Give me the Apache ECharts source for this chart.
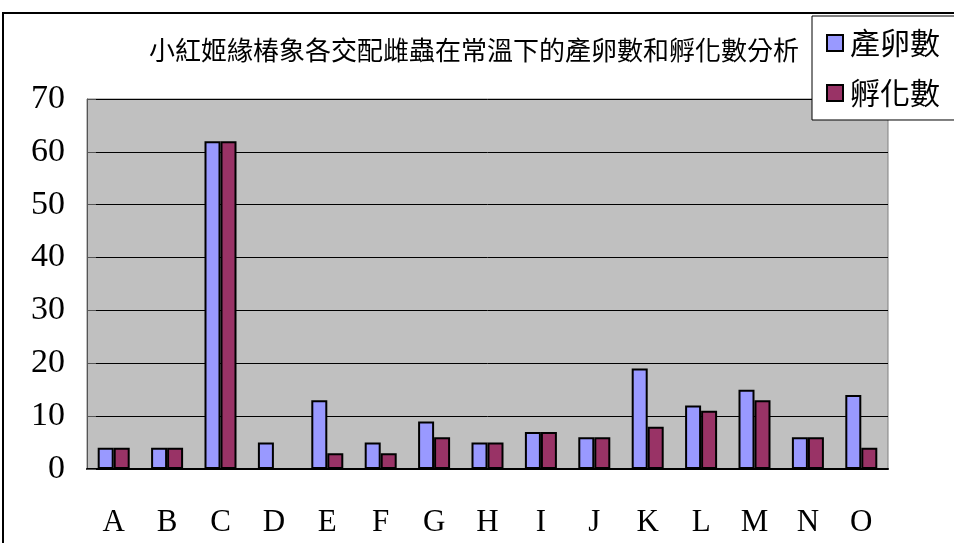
<!DOCTYPE html>
<html><head><meta charset="utf-8">
<script src="https://cdn.jsdelivr.net/npm/echarts@6/dist/echarts.min.js"></script>
<style>html,body{margin:0;padding:0;background:#fff}#c{width:954px;height:543px}</style>
</head><body><div id="c"></div>
<script>
const titleText = '小紅姬緣椿象各交配雌蟲在常溫下的產卵數和孵化數分析';
const categories = ['A','B','C','D','E','F','G','H','I','J','K','L','M','N','O'];
const eggs = [4,4,62,5,13,5,9,5,7,6,19,12,15,6,14];
const hatched = [4,4,62,0,3,3,6,5,7,6,8,11,13,6,4];
const seriesNames = ['產卵數','孵化數'];
const yTicks = [0,10,20,30,40,50,60,70];

const chart = echarts.init(document.getElementById('c'));
const serif = '"Liberation Serif","DejaVu Serif",serif';
const cjk = '"Noto Sans CJK TC","Noto Sans CJK SC",sans-serif';
chart.setOption({
  animation:false,
  backgroundColor:'#fff',
  title:{text:titleText,left:469,textAlign:'center',top:32,
    textStyle:{fontFamily:cjk,fontSize:26,fontWeight:'normal',color:'#000'}},
  legend:{orient:'vertical',left:812,top:16,padding:[12,40,12,14],itemGap:20,
    itemWidth:16,itemHeight:16,icon:'rect',backgroundColor:'#fff',borderColor:'#000',borderWidth:1,
    textStyle:{fontFamily:cjk,fontSize:30,color:'#000',padding:[0,0,0,2]},
    data:seriesNames},
  graphic:[{type:'rect',z:-1,shape:{x:3,y:13,width:1000,height:600},
    style:{fill:null,stroke:'#000',lineWidth:2}}],
  grid:{left:87,right:66,top:99,bottom:74,show:true,backgroundColor:'#C0C0C0',borderColor:'#808080',borderWidth:1},
  xAxis:{type:'category',data:categories,boundaryGap:true,
    axisLine:{lineStyle:{color:'#000',width:2}},
    axisTick:{inside:true,length:9,lineStyle:{color:'#666',width:2}},
    axisLabel:{fontFamily:serif,fontSize:31,color:'#000',margin:38}},
  yAxis:{type:'value',min:0,max:70,interval:10,
    axisLine:{show:true,lineStyle:{color:'#555',width:1}},
    axisTick:{show:true,inside:true,length:9,lineStyle:{color:'#555'}},
    splitLine:{lineStyle:{color:'#000',width:1}},
    axisLabel:{fontFamily:serif,fontSize:34,color:'#000',margin:22,
      formatter:v=>yTicks.includes(v)?String(v):''}},
  series:[
    {name:seriesNames[0],type:'bar',data:eggs,barWidth:16,barGap:'0%',
      itemStyle:{color:'#9999FF',borderColor:'#000',borderWidth:2}},
    {name:seriesNames[1],type:'bar',data:hatched,barWidth:16,barGap:'0%',
      itemStyle:{color:'#993366',borderColor:'#000',borderWidth:2}}
  ]
});
</script></body></html>
